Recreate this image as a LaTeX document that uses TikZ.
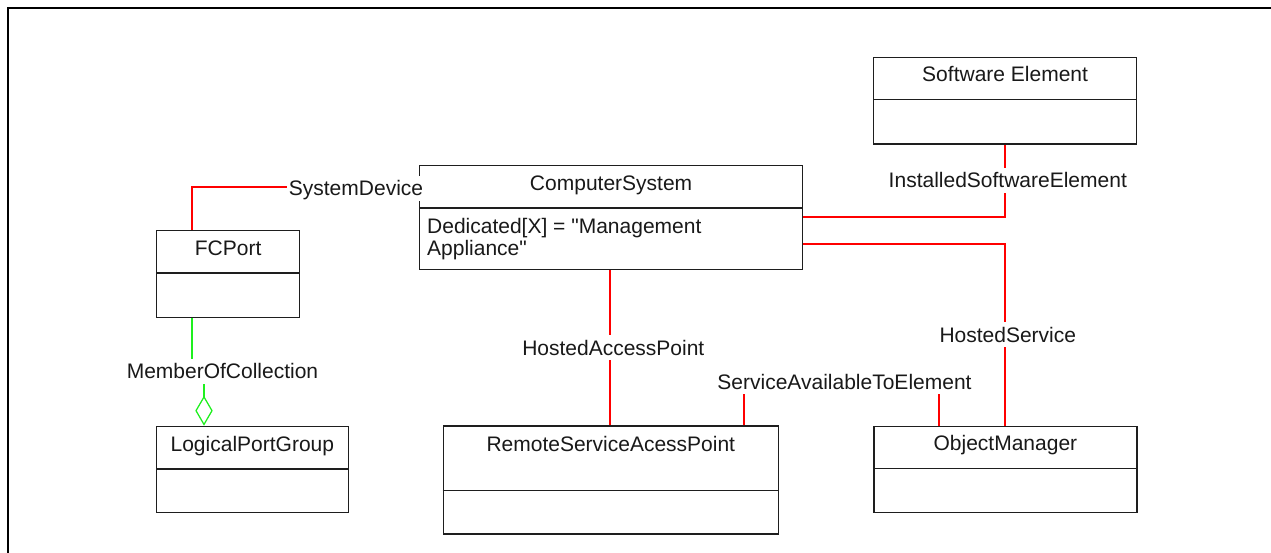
\documentclass[tikz,border=0pt]{standalone}
\usepackage{fontspec}
\newfontfamily\umlfont{Liberation Sans}
\usetikzlibrary{calc,arrows.meta}
\definecolor{relred}{RGB}{255,0,0}
\definecolor{aggreen}{RGB}{30,240,30}
\definecolor{boxline}{RGB}{30,30,30}
\begin{document}
\begin{tikzpicture}[x=1pt,y=-1pt,
  every node/.style={font=\umlfont\fontsize{21}{22}\selectfont, text={rgb,255:red,25;green,25;blue,25}},
  classbox/.style={draw=boxline, line width=1.2pt, inner sep=0pt, anchor=north west},
  divider/.style={draw=boxline, line width=1.2pt},
  title/.style={anchor=base, inner sep=0pt},
  attr/.style={anchor=base west, inner sep=0pt},
  rel/.style={draw=relred, line width=1.25pt},
  agg/.style={draw=aggreen, line width=1.25pt},
  lbl/.style={fill=white, inner xsep=2pt, inner ysep=3pt, text height=17pt, text depth=2pt},
]
\useasboundingbox (0,0) rectangle (1271,553);
\fill[white] (0,0) rectangle (1271,553);
\draw[line width=2.2pt] (1290,7.8) -- (7.8,7.8) -- (7.8,570);

% class boxes
\node[classbox, minimum width=143pt, minimum height=87pt] (fc) at (156,230) {};
\node[classbox, minimum width=383pt, minimum height=104pt] (cs) at (419,165) {};
\node[classbox, minimum width=263pt, minimum height=86.5pt] (se) at (873,57) {};
\node[classbox, minimum width=335pt, minimum height=108pt] (rsap) at (442.7,425.3) {};
\node[classbox, minimum width=191.5pt, minimum height=86.3pt] (lpg) at (156,425.7) {};
\node[classbox, minimum width=263pt, minimum height=86.3pt] (om) at (873.3,425.7) {};

% dividers
\draw[divider] ($(fc.north west)+(0,43)$) -- ($(fc.north east)+(0,43)$);
\draw[divider] ($(cs.north west)+(0,43)$) -- ($(cs.north east)+(0,43)$);
\draw[divider] ($(se.north west)+(0,42.6)$) -- ($(se.north east)+(0,42.6)$);
\draw[divider] ($(rsap.north west)+(0,65.4)$) -- ($(rsap.north east)+(0,65.4)$);
\draw[divider] ($(lpg.north west)+(0,43.3)$) -- ($(lpg.north east)+(0,43.3)$);
\draw[divider] ($(om.north west)+(0,43)$) -- ($(om.north east)+(0,43)$);

% titles
\node[title] (fct) at ($(fc.north)+(0,25.5)$) {FCPort};
\node[title] (cst) at ($(cs.north)+(0,25.5)$) {ComputerSystem};
\node[title] (set) at ($(se.north)+(0,25)$) {Software Element};
\node[title] (rsapt) at ($(rsap.north)+(0,26)$) {RemoteServiceAcessPoint};
\node[title] (lpgt) at ($(lpg.north)+(0,25.5)$) {LogicalPortGroup};
\node[title] (omt) at ($(om.north)+(0,25)$) {ObjectManager};

% attributes
\node[attr] (csa1) at (427,233.5) {Dedicated[X] = "Management};
\node[attr] (csa2) at (427,256) {Appliance"};

% connectors
\coordinate (sdb) at (192,187);
\draw[rel] (fc.north -| sdb) |- (cs.west |- sdb);
\coordinate (iseb) at (1005,217);
\draw[rel] (se.south -| iseb) |- (cs.east |- iseb);
\coordinate (hsb) at (1005,244);
\draw[rel] (cs.east |- hsb) -| (om.north -| hsb);
\coordinate (hapb) at (610,300);
\draw[rel] (cs.south -| hapb) -- (rsap.north -| hapb);
\coordinate (sa1) at (744,382);
\coordinate (sa2) at (939,382);
\draw[rel] (rsap.north -| sa1) -- (sa1) -- (sa2) -- (om.north -| sa2);
\coordinate (mo1) at (192,371);
\coordinate (mo2) at (204,371);
\draw[agg, -{Diamond[open, length=30pt, width=17.4pt]}] (fc.south -| mo1) -- (mo1) -- (mo2) -- (lpg.north -| mo2);

% connector labels
\node[lbl] (sdl) at (356,188.5) {SystemDevice};
\node[lbl] (isel) at (1007.8,180.5) {InstalledSoftwareElement};
\node[lbl] (hsl) at (1007.8,334.5) {HostedService};
\node[lbl] (hapl) at (613.3,347.5) {HostedAccessPoint};
\node[lbl] (satel) at (844.5,381.7) {ServiceAvailableToElement};
\node[lbl] (mocl) at (222.5,371) {MemberOfCollection};
\end{tikzpicture}
\end{document}
